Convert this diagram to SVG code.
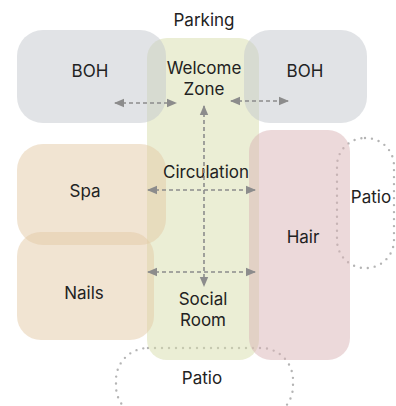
<svg xmlns="http://www.w3.org/2000/svg" width="396" height="406" viewBox="0 0 396 406">
<defs>
<style>
.t{font-family:Inter,"Liberation Sans",sans-serif;font-size:17px;fill:#222;text-anchor:middle}
.boh{fill:#c4c7cd;fill-opacity:.5}
.yel{fill:#d7ddab;fill-opacity:.5}
.tan{fill:#e3c9a5;fill-opacity:.5}
.pink{fill:#d9b3b5;fill-opacity:.5}
.patio{fill:none;stroke:#b4b4b4;stroke-width:2.4;stroke-linecap:round;stroke-dasharray:0 7}
.c{stroke:#8c8c8c;stroke-width:1.6;stroke-dasharray:4 3;fill:none;marker-start:url(#a);marker-end:url(#a)}
</style>
<marker id="a" viewBox="0 0 10 10" refX="9" refY="5" markerWidth="10" markerHeight="10" markerUnits="userSpaceOnUse" orient="auto-start-reverse">
<path d="M0,0.8 L10,5 L0,9.2 Z" fill="#8c8c8c"/>
</marker>
</defs>
<g id="patio-right"><rect class="patio" x="337" y="138" width="57" height="130" rx="28"/><text class="t" x="371" y="203">Patio</text></g>
<g id="patio-bottom"><rect class="patio" x="116" y="348" width="177" height="70" rx="32"/><text class="t" x="202" y="384">Patio</text></g>
<g id="welcome"><rect class="yel" x="147" y="38" width="112" height="322" rx="20"/><text class="t" x="204" y="74">Welcome</text><text class="t" x="204" y="95">Zone</text></g>
<g id="boh-left"><rect class="boh" x="17" y="30" width="149" height="93" rx="26"/><text class="t" x="90" y="77">BOH</text></g>
<g id="boh-right"><rect class="boh" x="244" y="30" width="123" height="93" rx="26"/><text class="t" x="305" y="77">BOH</text></g>
<g id="spa"><rect class="tan" x="17" y="144" width="149" height="101" rx="26"/><text class="t" x="85" y="197">Spa</text></g>
<g id="nails"><rect class="tan" x="17" y="232" width="137" height="108" rx="24"/><text class="t" x="84" y="299">Nails</text></g>
<g id="hair"><rect class="pink" x="249" y="130" width="101" height="230" rx="22"/><text class="t" x="303" y="243">Hair</text></g>
<g id="circulation"><text class="t" x="206" y="178">Circulation</text></g>
<g id="social"><text class="t" x="203" y="305">Social</text><text class="t" x="203" y="326">Room</text></g>
<g id="parking"><text class="t" x="204" y="26">Parking</text></g>
<g id="connectors">
<line class="c" x1="115" y1="103" x2="176" y2="103"/>
<line class="c" x1="231" y1="101" x2="288" y2="101"/>
<line class="c" x1="204" y1="106" x2="204" y2="286"/>
<line class="c" x1="148" y1="190" x2="255" y2="190"/>
<line class="c" x1="148" y1="272" x2="255" y2="272"/>
</g>
</svg>
